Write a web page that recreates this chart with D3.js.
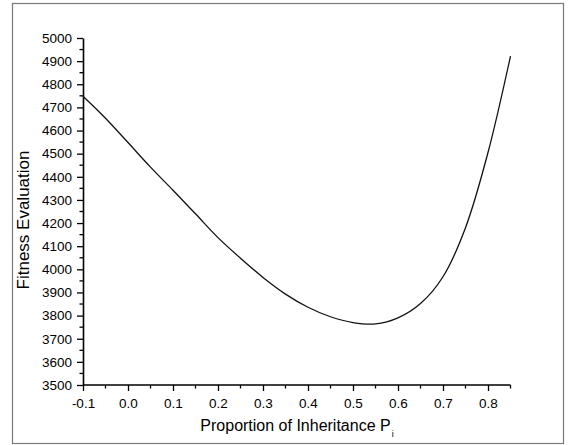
<!DOCTYPE html>
<html>
<head>
<meta charset="utf-8">
<script src="https://cdn.jsdelivr.net/npm/d3@7"></script>
<style>
body{margin:0;background:#fff;}
text{font-family:"Liberation Sans",Arial,sans-serif;fill:#000;}
</style>
</head>
<body>
<div id="chart"></div>
<script>
// values
let inherit= [-0.1,-0.05,0.0,0.05,0.1,0.15,0.2,0.25,0.3,0.35,0.4,0.45,0.5,0.55,0.6,0.65,0.7,0.75,0.8,0.85];
let fitness= [4748,4653,4548,4442,4342,4240,4137,4048,3965,3893,3836,3795,3770,3764,3790,3852,3968,4180,4505,4922];
let yTicks= [3500,3600,3700,3800,3900,4000,4100,4200,4300,4400,4500,4600,4700,4800,4900,5000];
let xTicks= [-0.1,0.0,0.1,0.2,0.3,0.4,0.5,0.6,0.7,0.8];

let width= 569, height= 445;
let padLeft= 83, padRight= 510.5, padTop= 38, padBottom= 385;

let chart= d3.select("#chart").append("svg")
.attr("width",width).attr("height",height);

// outer frame
chart.append("rect")
.attr("x",12.5).attr("y",3.5).attr("width",551).attr("height",440)
.attr("fill","none").attr("stroke","#7a7a7a").attr("stroke-width",1.2);

let xscale= d3.scaleLinear().domain([-0.1,0.85]).range([padLeft,padRight]);
let yscale= d3.scaleLinear().domain([3500,5000]).range([padBottom,padTop]);

// minor ticks
let yMinor= d3.range(3550,5000,100);
let xMinor= d3.range(-0.05,0.86,0.1);

let xAxis= d3.axisBottom(xscale).tickValues(xTicks).tickSizeInner(6).tickSizeOuter(0)
.tickFormat(function(d){ return d3.format(".1f")(d).replace("\u2212","-"); }).tickPadding(7);
let yAxis= d3.axisLeft(yscale).tickValues(yTicks).tickSizeInner(6).tickSizeOuter(0)
.tickFormat(d3.format("d")).tickPadding(5);

let gx= chart.append("g").attr("class","xaxis")
.attr("transform","translate(0,"+padBottom+")").call(xAxis);
let gy= chart.append("g").attr("class","yaxis")
.attr("transform","translate("+padLeft+",0)").call(yAxis);

gx.append("g").selectAll("line").data(xMinor).enter().append("line")
.attr("x1",d=>xscale(d)).attr("x2",d=>xscale(d)).attr("y1",0).attr("y2",3.5)
.attr("stroke","#000");
gy.append("g").selectAll("line").data(yMinor).enter().append("line")
.attr("y1",d=>yscale(d)).attr("y2",d=>yscale(d)).attr("x1",0).attr("x2",-3.5)
.attr("stroke","#000");

[gx,gy].forEach(function(g){
  g.select(".domain").attr("stroke","#000").attr("stroke-width",1.6);
  g.selectAll("line").attr("stroke-width",1.3);
  g.selectAll("text").attr("font-size","13.5px").attr("font-family","Liberation Sans, Arial, sans-serif");
});
gx.select(".domain").attr("d","M"+padLeft+",0H"+padRight);

// the curve
let line= d3.line()
.x(function(d,i){ return xscale(inherit[i]); })
.y(function(d){ return yscale(d); })
.curve(d3.curveCatmullRom);

chart.append("path").datum(fitness)
.attr("d",line).attr("fill","none").attr("stroke","#111").attr("stroke-width",1.3);

// titles
let xt= chart.append("text").attr("x",297).attr("y",431)
.attr("text-anchor","middle").attr("font-size","16px");
xt.append("tspan").text("Proportion of Inheritance P");
xt.append("tspan").text("i").attr("font-size","9px").attr("dy",6).attr("dx",1);

chart.append("text").text("Fitness Evaluation")
.attr("transform","translate(29,220) rotate(-90)")
.attr("text-anchor","middle").attr("font-size","17px");
</script>
</body>
</html>
